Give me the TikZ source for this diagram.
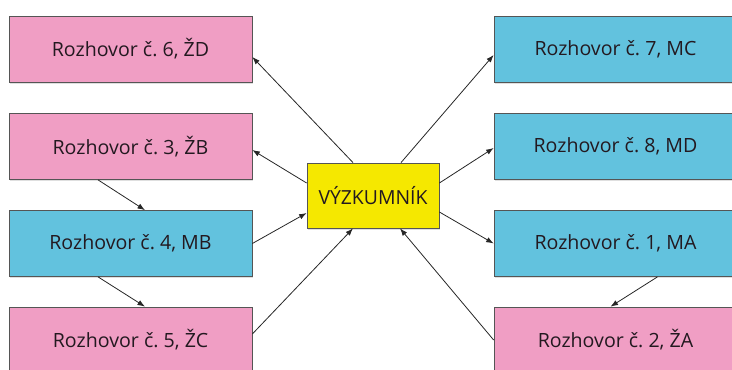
\documentclass[tikz,border=0pt]{standalone}
\usepackage{fontspec}
\setmainfont{Open Sans}
\usetikzlibrary{arrows.meta,shadows,calc}
\definecolor{pinkbox}{RGB}{240,158,196}
\definecolor{bluebox}{RGB}{98,194,222}
\definecolor{yellowbox}{RGB}{245,232,0}
\definecolor{edgegray}{RGB}{85,85,85}
\definecolor{txt}{RGB}{35,25,32}
\begin{document}
\frenchspacing
\begin{tikzpicture}[x=1pt,y=-1pt,
  box/.style={draw=edgegray,line width=0.7pt,rectangle,minimum width=243pt,minimum height=66pt,
     inner sep=0pt,text=txt,font=\fontsize{19.6}{22}\selectfont,
     drop shadow={opacity=0.25,shadow xshift=1.2pt,shadow yshift=-1.5pt}},
  pinkb/.style={box,fill=pinkbox},
  blueb/.style={box,fill=bluebox},
  center/.style={draw=edgegray,line width=0.8pt,fill=yellowbox,rectangle,minimum width=132pt,
     minimum height=65pt,inner sep=0pt,text=txt,font=\fontsize{19.4}{22}\selectfont,
     drop shadow={opacity=0.25,shadow xshift=1.2pt,shadow yshift=-1.5pt}},
  arr/.style={draw=black!85,line width=0.8pt,-{Latex[length=7.5pt,width=5.5pt]}}]
\useasboundingbox (0,0) rectangle (732,370);
\begin{scope}
\clip (0,0) rectangle (732,370);
\node[pinkb] (b6) at (130.5,49) {Rozhovor č. 6, ŽD};
\node[pinkb] (b3) at (130.5,146.5) {Rozhovor č. 3, ŽB};
\node[blueb] (b4) at (130.5,243.5) {Rozhovor č. 4, MB};
\node[pinkb] (b5) at (130.5,340) {Rozhovor č. 5, ŽC};
\node[blueb] (b7) at (615.5,49) {Rozhovor č. 7, MC};
\node[blueb] (b8) at (615.5,146.5) {Rozhovor č. 8, MD};
\node[blueb] (b1) at (615.5,243.5) {Rozhovor č. 1, MA};
\node[pinkb] (b2) at (615.5,340) {Rozhovor č. 2, ŽA};
\node[center] (y) at (373,195.5) {VÝZKUMNÍK};

\draw[arr] ([xshift=-20pt]y.north) -- ([yshift=-8pt]b6.east);
\draw[arr] ([yshift=12.5pt]y.west) -- ([yshift=-3.5pt]b3.east);
\draw[arr] ([xshift=-32.5pt]b3.south) -- ([xshift=14.5pt]b4.north);
\draw[arr] (b4.east) -- ([yshift=-17.5pt]y.west);
\draw[arr] ([xshift=-32.5pt]b4.south) -- ([xshift=14.5pt]b5.north);
\draw[arr] ([yshift=6pt]b5.east) -- ([xshift=-20pt]y.south);
\draw[arr] ([xshift=28pt]y.north) -- ([yshift=-6pt]b7.west);
\draw[arr] ([yshift=12.5pt]y.east) -- ([yshift=-1.5pt]b8.west);
\draw[arr] ([yshift=-16.5pt]y.east) -- (b1.west);
\draw[arr] ([xshift=42pt]b1.south) -- ([xshift=-5pt]b2.north);
\draw[arr] (b2.west) -- ([xshift=27pt]y.south);
\end{scope}
\end{tikzpicture}
\end{document}
